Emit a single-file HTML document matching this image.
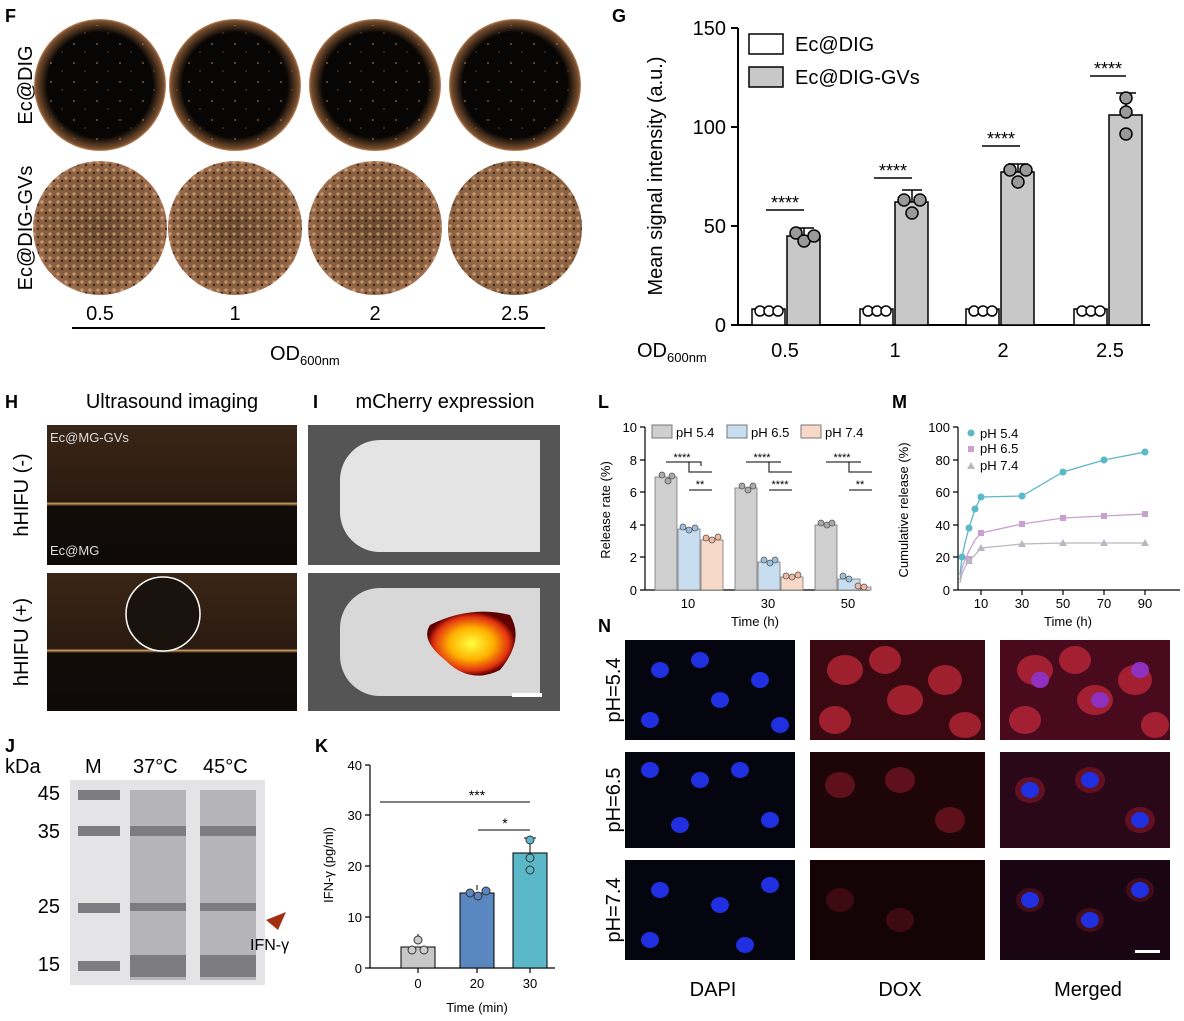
<!DOCTYPE html>
<html><head><style>
body{margin:0;background:#fff;}
svg{display:block;font-family:"Liberation Sans",Arial,sans-serif;}
</style></head><body>
<svg width="1184" height="1021" viewBox="0 0 1184 1021" xmlns="http://www.w3.org/2000/svg">
<defs>
<radialGradient id="cT"><stop offset="0.8" stop-color="#080604"/><stop offset="0.97" stop-color="#7a5030"/><stop offset="1" stop-color="#c08860"/></radialGradient>
<radialGradient id="cB"><stop offset="0" stop-color="#6a4a30"/><stop offset="0.9" stop-color="#8a6040"/><stop offset="1" stop-color="#a07050"/></radialGradient>
<radialGradient id="cB2"><stop offset="0" stop-color="#b08058"/><stop offset="1" stop-color="#8a6040"/></radialGradient>
<pattern id="spk" width="8" height="8" patternUnits="userSpaceOnUse"><rect width="8" height="8" fill="none"/><circle cx="2" cy="2" r="1.6" fill="#f0c090" opacity="0.6"/><circle cx="6" cy="5" r="1.2" fill="#1a1008" opacity="0.7"/></pattern>
<pattern id="spk2" width="23" height="19" patternUnits="userSpaceOnUse"><circle cx="5" cy="6" r="1" fill="#b07a50" opacity="0.7"/><circle cx="16" cy="14" r="0.8" fill="#a06a40" opacity="0.6"/></pattern>
<linearGradient id="us" x1="0" y1="0" x2="0" y2="1"><stop offset="0" stop-color="#3a2616"/><stop offset="0.55" stop-color="#2a1a10"/><stop offset="0.56" stop-color="#d0a060"/><stop offset="0.58" stop-color="#120c08"/><stop offset="1" stop-color="#0e0a08"/></linearGradient>
<radialGradient id="hot"><stop offset="0" stop-color="#ffff40"/><stop offset="0.5" stop-color="#ffb000"/><stop offset="0.85" stop-color="#e03010"/><stop offset="1" stop-color="#600000"/></radialGradient>
</defs>
<!-- F -->
<text x="5" y="22" font-size="18" font-weight="bold">F</text>
<g font-size="20">
<text transform="translate(32,85) rotate(-90)" text-anchor="middle">Ec@DIG</text>
<text transform="translate(32,228) rotate(-90)" text-anchor="middle">Ec@DIG-GVs</text>
</g>
<g>
<circle cx="100" cy="85" r="66" fill="url(#cT)"/><circle cx="235" cy="85" r="66" fill="url(#cT)"/><circle cx="375" cy="85" r="66" fill="url(#cT)"/><circle cx="515" cy="85" r="66" fill="url(#cT)"/>
<circle cx="100" cy="85" r="60" fill="url(#spk2)"/><circle cx="235" cy="85" r="60" fill="url(#spk2)"/><circle cx="375" cy="85" r="60" fill="url(#spk2)"/><circle cx="515" cy="85" r="60" fill="url(#spk2)"/>
<circle cx="100" cy="228" r="67" fill="url(#cB)"/><circle cx="235" cy="228" r="67" fill="url(#cB)"/><circle cx="375" cy="228" r="67" fill="url(#cB)"/><circle cx="515" cy="228" r="67" fill="url(#cB2)"/>
<circle cx="100" cy="228" r="67" fill="url(#spk)"/><circle cx="235" cy="228" r="67" fill="url(#spk)"/><circle cx="375" cy="228" r="67" fill="url(#spk)"/><circle cx="515" cy="228" r="67" fill="url(#spk)"/>
</g>
<g font-size="20" text-anchor="middle"><text x="100" y="320">0.5</text><text x="235" y="320">1</text><text x="375" y="320">2</text><text x="515" y="320">2.5</text></g>
<line x1="72" y1="328" x2="545" y2="328" stroke="#000" stroke-width="2"/>
<text x="270" y="360" font-size="20">OD<tspan font-size="13" dy="5">600nm</tspan></text>
<!-- G -->
<text x="612" y="22" font-size="18" font-weight="bold">G</text>
<text transform="translate(662,176) rotate(-90)" text-anchor="middle" font-size="20">Mean signal intensity (a.u.)</text>
<g stroke="#000" stroke-width="2"><line x1="738" y1="28" x2="738" y2="326"/><line x1="738" y1="325" x2="1150" y2="325"/>
<line x1="731" y1="28" x2="738" y2="28"/><line x1="731" y1="226" x2="738" y2="226"/><line x1="731" y1="127" x2="738" y2="127"/><line x1="731" y1="325" x2="738" y2="325"/></g>
<g font-size="20" text-anchor="end"><text x="726" y="35">150</text><text x="726" y="134">100</text><text x="726" y="233">50</text><text x="726" y="332">0</text></g>
<g stroke="#000" stroke-width="1.5">
<rect x="752" y="309" width="33" height="16" fill="#fff"/><rect x="787" y="236" width="33" height="89" fill="#c8c8c8"/>
<rect x="860" y="309" width="33" height="16" fill="#fff"/><rect x="895" y="202" width="33" height="123" fill="#c8c8c8"/>
<rect x="966" y="309" width="33" height="16" fill="#fff"/><rect x="1001" y="172" width="33" height="153" fill="#c8c8c8"/>
<rect x="1074" y="309" width="33" height="16" fill="#fff"/><rect x="1109" y="115" width="33" height="210" fill="#c8c8c8"/>
<path d="M794 228h20M804 228v8M902 190h20M912 190v12M1008 164h20M1018 164v8M1116 93h20M1126 93v22" fill="none"/>
<line x1="766" y1="210" x2="804" y2="210"/><line x1="874" y1="178" x2="912" y2="178"/><line x1="982" y1="146" x2="1020" y2="146"/><line x1="1090" y1="76" x2="1126" y2="76"/>
</g>
<g fill="#fff" stroke="#000" stroke-width="1.5">
<circle cx="760" cy="311" r="5"/><circle cx="769" cy="311" r="5"/><circle cx="778" cy="311" r="5"/>
<circle cx="868" cy="311" r="5"/><circle cx="877" cy="311" r="5"/><circle cx="886" cy="311" r="5"/>
<circle cx="974" cy="311" r="5"/><circle cx="983" cy="311" r="5"/><circle cx="992" cy="311" r="5"/>
<circle cx="1082" cy="311" r="5"/><circle cx="1091" cy="311" r="5"/><circle cx="1100" cy="311" r="5"/>
</g>
<g fill="#999" stroke="#000" stroke-width="1.5">
<circle cx="796" cy="233" r="6"/><circle cx="804" cy="241" r="6"/><circle cx="814" cy="236" r="6"/>
<circle cx="904" cy="200" r="6"/><circle cx="912" cy="213" r="6"/><circle cx="920" cy="200" r="6"/>
<circle cx="1010" cy="170" r="6"/><circle cx="1018" cy="182" r="6"/><circle cx="1026" cy="170" r="6"/>
<circle cx="1126" cy="98" r="6"/><circle cx="1126" cy="112" r="6"/><circle cx="1126" cy="134" r="6"/>
</g>
<g font-size="18" text-anchor="middle"><text x="785" y="209">****</text><text x="893" y="177">****</text><text x="1001" y="145">****</text><text x="1108" y="75">****</text></g>
<rect x="749" y="34" width="34" height="20" fill="#fff" stroke="#000" stroke-width="1.5"/><text x="795" y="51" font-size="20">Ec@DIG</text>
<rect x="749" y="67" width="34" height="20" fill="#c8c8c8" stroke="#000" stroke-width="1.5"/><text x="795" y="84" font-size="20">Ec@DIG-GVs</text>
<text x="637" y="357" font-size="20">OD<tspan font-size="13" dy="5">600nm</tspan></text>
<g font-size="20" text-anchor="middle"><text x="785" y="357">0.5</text><text x="895" y="357">1</text><text x="1003" y="357">2</text><text x="1110" y="357">2.5</text></g>
<!-- H -->
<text x="5" y="408" font-size="18" font-weight="bold">H</text>
<text x="172" y="408" font-size="20" text-anchor="middle">Ultrasound imaging</text>
<rect x="47" y="425" width="250" height="140" fill="url(#us)"/>
<rect x="47" y="573" width="250" height="138" fill="url(#us)"/>
<circle cx="163" cy="614" r="37" fill="#1a120c" stroke="#fff" stroke-width="1.5"/>
<text x="50" y="442" font-size="13" fill="#ddd">Ec@MG-GVs</text><text x="50" y="555" font-size="13" fill="#ddd">Ec@MG</text>
<text transform="translate(28,495) rotate(-90)" text-anchor="middle" font-size="20">hHIFU (-)</text>
<text transform="translate(28,642) rotate(-90)" text-anchor="middle" font-size="20">hHIFU (+)</text>
<!-- I -->
<text x="313" y="408" font-size="18" font-weight="bold">I</text>
<text x="445" y="408" font-size="20" text-anchor="middle">mCherry expression</text>
<rect x="308" y="425" width="252" height="140" fill="#555"/>
<rect x="308" y="573" width="252" height="138" fill="#555"/>
<path d="M380 440h160v112h-160a40 40 0 0 1-40-40v-32a40 40 0 0 1 40-40z" fill="#e4e4e4"/>
<path d="M380 588h160v108h-160a40 40 0 0 1-40-40v-28a40 40 0 0 1 40-40z" fill="#d8d8d8"/>
<path d="M430 625 Q470 605 510 615 Q525 640 500 670 Q470 685 445 660 Q420 640 430 625z" fill="url(#hot)"/>
<rect x="512" y="693" width="30" height="4" fill="#fff"/>
<!-- J -->
<text x="5" y="752" font-size="18" font-weight="bold">J</text>
<g font-size="20"><text x="5" y="773">kDa</text><text x="85" y="773">M</text><text x="133" y="773">37°C</text><text x="203" y="773">45°C</text></g>
<rect x="70" y="780" width="195" height="205" fill="#e4e4e6"/>
<g fill="#6a6a70" opacity="0.85">
<rect x="78" y="790" width="42" height="10"/><rect x="78" y="826" width="42" height="10"/><rect x="78" y="903" width="42" height="10"/><rect x="78" y="961" width="42" height="10"/>
<rect x="130" y="790" width="56" height="190" opacity="0.45"/><rect x="200" y="790" width="56" height="190" opacity="0.45"/>
<rect x="130" y="826" width="56" height="10"/><rect x="200" y="826" width="56" height="10"/>
<rect x="130" y="903" width="56" height="8"/><rect x="200" y="903" width="56" height="8"/>
<rect x="130" y="955" width="56" height="22"/><rect x="200" y="955" width="56" height="22"/>
</g>
<g font-size="20" text-anchor="end"><text x="60" y="800">45</text><text x="60" y="838">35</text><text x="60" y="913">25</text><text x="60" y="971">15</text></g>
<path d="M266 920 l20 -8 l-8 18 z" fill="#a03010"/>
<text x="250" y="950" font-size="16">IFN-γ</text>
<!-- K -->
<text x="315" y="752" font-size="18" font-weight="bold">K</text>
<text transform="translate(333,865) rotate(-90)" text-anchor="middle" font-size="13">IFN-γ (pg/ml)</text>
<g stroke="#000" stroke-width="1.2"><line x1="370" y1="765" x2="370" y2="968"/><line x1="370" y1="968" x2="555" y2="968"/>
<path d="M365 765h5M365 815h5M365 866h5M365 917h5M365 968h5M418 968v5M477 968v5M530 968v5"/></g>
<g font-size="13" text-anchor="end"><text x="362" y="770">40</text><text x="362" y="820">30</text><text x="362" y="871">20</text><text x="362" y="922">10</text><text x="362" y="973">0</text></g>
<g font-size="13" text-anchor="middle"><text x="418" y="988">0</text><text x="477" y="988">20</text><text x="530" y="988">30</text><text x="477" y="1012">Time (min)</text></g>
<g stroke="#000" stroke-width="1"><rect x="401" y="947" width="34" height="21" fill="#c8c8c8"/><rect x="460" y="893" width="34" height="75" fill="#5a87c0"/><rect x="513" y="853" width="34" height="115" fill="#5ab8c8"/>
<path d="M380 802h150M478 830h52M418 940v-6M477 890v-5M530 853v-15M524 838h12"/></g>
<g font-size="14" text-anchor="middle"><text x="477" y="800">***</text><text x="505" y="828">*</text></g>
<g fill="#ccc" stroke="#333"><circle cx="418" cy="940" r="4"/><circle cx="412" cy="950" r="4"/><circle cx="424" cy="950" r="4"/>
<circle cx="470" cy="893" r="4" fill="#5a87c0"/><circle cx="478" cy="896" r="4" fill="#5a87c0"/><circle cx="486" cy="891" r="4" fill="#5a87c0"/>
<circle cx="530" cy="840" r="4" fill="#5ab8c8"/><circle cx="530" cy="858" r="4" fill="#5ab8c8"/><circle cx="530" cy="870" r="4" fill="#5ab8c8"/></g>
<!-- L -->
<text x="598" y="408" font-size="18" font-weight="bold">L</text>
<text transform="translate(610,510) rotate(-90)" text-anchor="middle" font-size="13">Release rate (%)</text>
<g stroke="#000" stroke-width="1.2"><line x1="645" y1="427" x2="645" y2="590"/><line x1="645" y1="590" x2="870" y2="590"/>
<path d="M640 427h5M640 460h5M640 492h5M640 525h5M640 557h5M640 590h5"/></g>
<g font-size="13" text-anchor="end"><text x="637" y="432">10</text><text x="637" y="465">8</text><text x="637" y="497">6</text><text x="637" y="530">4</text><text x="637" y="562">2</text><text x="637" y="595">0</text></g>
<g stroke="#777" stroke-width="0.8">
<rect x="655" y="477" width="22" height="113" fill="#cfcfcf"/><rect x="678" y="529" width="22" height="61" fill="#c8ddf0"/><rect x="701" y="540" width="22" height="50" fill="#f8d8c8"/>
<rect x="735" y="488" width="22" height="102" fill="#cfcfcf"/><rect x="758" y="562" width="22" height="28" fill="#c8ddf0"/><rect x="781" y="577" width="22" height="13" fill="#f8d8c8"/>
<rect x="815" y="525" width="22" height="65" fill="#cfcfcf"/><rect x="838" y="579" width="22" height="11" fill="#c8ddf0"/><rect x="861" y="587" width="10" height="3" fill="#f8d8c8"/>
</g>
<g stroke="#555" stroke-width="0.8">
<circle cx="662" cy="475" r="3" fill="#aaa"/><circle cx="668" cy="481" r="3" fill="#aaa"/><circle cx="672" cy="476" r="3" fill="#aaa"/>
<circle cx="683" cy="527" r="3" fill="#9cc0e0"/><circle cx="689" cy="530" r="3" fill="#9cc0e0"/><circle cx="695" cy="528" r="3" fill="#9cc0e0"/>
<circle cx="706" cy="538" r="3" fill="#f0b8a0"/><circle cx="712" cy="540" r="3" fill="#f0b8a0"/><circle cx="718" cy="537" r="3" fill="#f0b8a0"/>
<circle cx="742" cy="486" r="3" fill="#aaa"/><circle cx="748" cy="490" r="3" fill="#aaa"/><circle cx="753" cy="486" r="3" fill="#aaa"/>
<circle cx="764" cy="560" r="3" fill="#9cc0e0"/><circle cx="770" cy="563" r="3" fill="#9cc0e0"/><circle cx="775" cy="560" r="3" fill="#9cc0e0"/>
<circle cx="786" cy="576" r="3" fill="#f0b8a0"/><circle cx="792" cy="577" r="3" fill="#f0b8a0"/><circle cx="798" cy="575" r="3" fill="#f0b8a0"/>
<circle cx="821" cy="523" r="3" fill="#aaa"/><circle cx="827" cy="525" r="3" fill="#aaa"/><circle cx="832" cy="523" r="3" fill="#aaa"/>
<circle cx="843" cy="576" r="3" fill="#9cc0e0"/><circle cx="849" cy="579" r="3" fill="#9cc0e0"/>
<circle cx="858" cy="586" r="3" fill="#f0b8a0"/><circle cx="864" cy="587" r="3" fill="#f0b8a0"/>
</g>
<g stroke="#000" stroke-width="1" fill="none"><path d="M666 462h35v4M701 466v-4M689 462v10h23M689 490h23"/><path d="M746 462h35M769 462v10h23M769 490h23"/><path d="M826 462h35M849 462v10h23M849 490h23"/></g>
<g font-size="11" text-anchor="middle"><text x="682" y="461">****</text><text x="700" y="488">**</text><text x="762" y="461">****</text><text x="780" y="488">****</text><text x="842" y="461">****</text><text x="860" y="488">**</text></g>
<g font-size="13" text-anchor="middle"><text x="688" y="608">10</text><text x="768" y="608">30</text><text x="848" y="608">50</text><text x="755" y="626">Time (h)</text></g>
<rect x="652" y="425" width="20" height="13" fill="#cfcfcf" stroke="#777"/><text x="676" y="437" font-size="13">pH 5.4</text>
<rect x="727" y="425" width="20" height="13" fill="#c8ddf0" stroke="#777"/><text x="751" y="437" font-size="13">pH 6.5</text>
<rect x="801" y="425" width="20" height="13" fill="#f8d8c8" stroke="#777"/><text x="825" y="437" font-size="13">pH 7.4</text>
<!-- M -->
<text x="892" y="408" font-size="18" font-weight="bold">M</text>
<text transform="translate(908,510) rotate(-90)" text-anchor="middle" font-size="13">Cumulative release (%)</text>
<g stroke="#000" stroke-width="1.2"><line x1="958" y1="427" x2="958" y2="590"/><line x1="958" y1="590" x2="1180" y2="590"/>
<path d="M953 427h5M953 460h5M953 492h5M953 525h5M953 557h5M953 590h5M981 590v5M1022 590v5M1063 590v5M1104 590v5M1145 590v5"/></g>
<g font-size="13" text-anchor="end"><text x="950" y="432">100</text><text x="950" y="465">80</text><text x="950" y="497">60</text><text x="950" y="530">40</text><text x="950" y="562">20</text><text x="950" y="595">0</text></g>
<g font-size="13" text-anchor="middle"><text x="981" y="608">10</text><text x="1022" y="608">30</text><text x="1063" y="608">50</text><text x="1104" y="608">70</text><text x="1145" y="608">90</text><text x="1068" y="626">Time (h)</text></g>
<polyline points="960,575 962,557 965,543 969,528 975,509 981,497 1022,496 1063,472 1104,460 1145,452" fill="none" stroke="#5ab8c8" stroke-width="1.3"/>
<polyline points="960,580 962,568 965,560 969,551 975,540 981,533 1022,524 1063,518 1104,516 1145,514" fill="none" stroke="#c9a0d0" stroke-width="1.3"/>
<polyline points="960,583 962,574 965,567 969,561 975,555 981,548 1022,544 1063,543 1104,543 1145,543" fill="none" stroke="#b8b8c0" stroke-width="1.3"/>
<g fill="#5ab8c8"><circle cx="962" cy="557" r="3.5"/><circle cx="969" cy="528" r="3.5"/><circle cx="975" cy="509" r="3.5"/><circle cx="981" cy="497" r="3.5"/><circle cx="1022" cy="496" r="3.5"/><circle cx="1063" cy="472" r="3.5"/><circle cx="1104" cy="460" r="3.5"/><circle cx="1145" cy="452" r="3.5"/><circle cx="971" cy="433" r="3.5"/></g>
<g fill="#c9a0d0"><rect x="966" y="556" width="6" height="6"/><rect x="978" y="530" width="6" height="6"/><rect x="1019" y="521" width="6" height="6"/><rect x="1060" y="515" width="6" height="6"/><rect x="1101" y="513" width="6" height="6"/><rect x="1142" y="511" width="6" height="6"/><rect x="968" y="446" width="6" height="6"/></g>
<g fill="#b8b8c0"><path d="M969 557l4 7h-8zM981 544l4 7h-8zM1022 540l4 7h-8zM1063 539l4 7h-8zM1104 539l4 7h-8zM1145 539l4 7h-8zM971 462l4 7h-8z"/></g>
<g font-size="13"><text x="980" y="438">pH 5.4</text><text x="980" y="453">pH 6.5</text><text x="980" y="470">pH 7.4</text></g>
<!-- N -->
<text x="598" y="632" font-size="18" font-weight="bold">N</text>
<g>
<rect x="625" y="640" width="170" height="100" fill="#050510"/><rect x="810" y="640" width="175" height="100" fill="#3a0810"/><rect x="1000" y="640" width="170" height="100" fill="#4a0a1e"/>
<rect x="625" y="752" width="170" height="96" fill="#050510"/><rect x="810" y="752" width="175" height="96" fill="#1e0508"/><rect x="1000" y="752" width="170" height="96" fill="#2a0818"/>
<rect x="625" y="860" width="170" height="100" fill="#050510"/><rect x="810" y="860" width="175" height="100" fill="#140406"/><rect x="1000" y="860" width="170" height="100" fill="#1a0612"/>
</g>
<g fill="#c02838" opacity="0.75">
<ellipse cx="845" cy="670" rx="18" ry="15"/><ellipse cx="885" cy="660" rx="16" ry="14"/><ellipse cx="905" cy="700" rx="18" ry="15"/><ellipse cx="945" cy="680" rx="17" ry="15"/><ellipse cx="835" cy="720" rx="16" ry="14"/><ellipse cx="965" cy="725" rx="16" ry="13"/>
<ellipse cx="1035" cy="670" rx="18" ry="15"/><ellipse cx="1075" cy="660" rx="16" ry="14"/><ellipse cx="1095" cy="700" rx="18" ry="15"/><ellipse cx="1135" cy="680" rx="17" ry="15"/><ellipse cx="1025" cy="720" rx="16" ry="14"/><ellipse cx="1155" cy="725" rx="14" ry="13"/>
</g>
<g fill="#8a1828" opacity="0.6">
<ellipse cx="840" cy="785" rx="15" ry="13"/><ellipse cx="900" cy="780" rx="15" ry="13"/><ellipse cx="950" cy="820" rx="15" ry="13"/>
<ellipse cx="1030" cy="790" rx="15" ry="13"/><ellipse cx="1090" cy="780" rx="15" ry="13"/><ellipse cx="1140" cy="820" rx="15" ry="13"/>
<ellipse cx="840" cy="900" rx="14" ry="12" opacity="0.6"/><ellipse cx="900" cy="920" rx="14" ry="12" opacity="0.6"/>
<ellipse cx="1030" cy="900" rx="14" ry="12" opacity="0.6"/><ellipse cx="1090" cy="920" rx="14" ry="12" opacity="0.6"/><ellipse cx="1140" cy="890" rx="14" ry="12" opacity="0.6"/>
</g>
<g fill="#2030e0">
<ellipse cx="660" cy="670" rx="9" ry="8"/><ellipse cx="700" cy="660" rx="9" ry="8"/><ellipse cx="720" cy="700" rx="9" ry="8"/><ellipse cx="760" cy="680" rx="9" ry="8"/><ellipse cx="650" cy="720" rx="9" ry="8"/><ellipse cx="780" cy="725" rx="9" ry="8"/>
<ellipse cx="650" cy="770" rx="9" ry="8"/><ellipse cx="700" cy="780" rx="9" ry="8"/><ellipse cx="740" cy="770" rx="9" ry="8"/><ellipse cx="680" cy="825" rx="9" ry="8"/><ellipse cx="770" cy="820" rx="9" ry="8"/>
<ellipse cx="660" cy="890" rx="9" ry="8"/><ellipse cx="720" cy="905" rx="9" ry="8"/><ellipse cx="770" cy="885" rx="9" ry="8"/><ellipse cx="650" cy="940" rx="9" ry="8"/><ellipse cx="745" cy="945" rx="9" ry="8"/>
<ellipse cx="1040" cy="680" rx="9" ry="8" fill="#9030c0"/><ellipse cx="1100" cy="700" rx="9" ry="8" fill="#9030c0"/><ellipse cx="1140" cy="670" rx="9" ry="8" fill="#9030c0"/>
<ellipse cx="1030" cy="790" rx="9" ry="8"/><ellipse cx="1090" cy="780" rx="9" ry="8"/><ellipse cx="1140" cy="820" rx="9" ry="8"/>
<ellipse cx="1030" cy="900" rx="9" ry="8"/><ellipse cx="1090" cy="920" rx="9" ry="8"/><ellipse cx="1140" cy="890" rx="9" ry="8"/>
</g>
<rect x="1135" y="950" width="25" height="3" fill="#fff"/>
<g font-size="20"><text transform="translate(620,690) rotate(-90)" text-anchor="middle">pH=5.4</text><text transform="translate(620,800) rotate(-90)" text-anchor="middle">pH=6.5</text><text transform="translate(620,910) rotate(-90)" text-anchor="middle">pH=7.4</text></g>
<g font-size="20" text-anchor="middle"><text x="713" y="996">DAPI</text><text x="900" y="996">DOX</text><text x="1088" y="996">Merged</text></g>
</svg>
</body></html>
